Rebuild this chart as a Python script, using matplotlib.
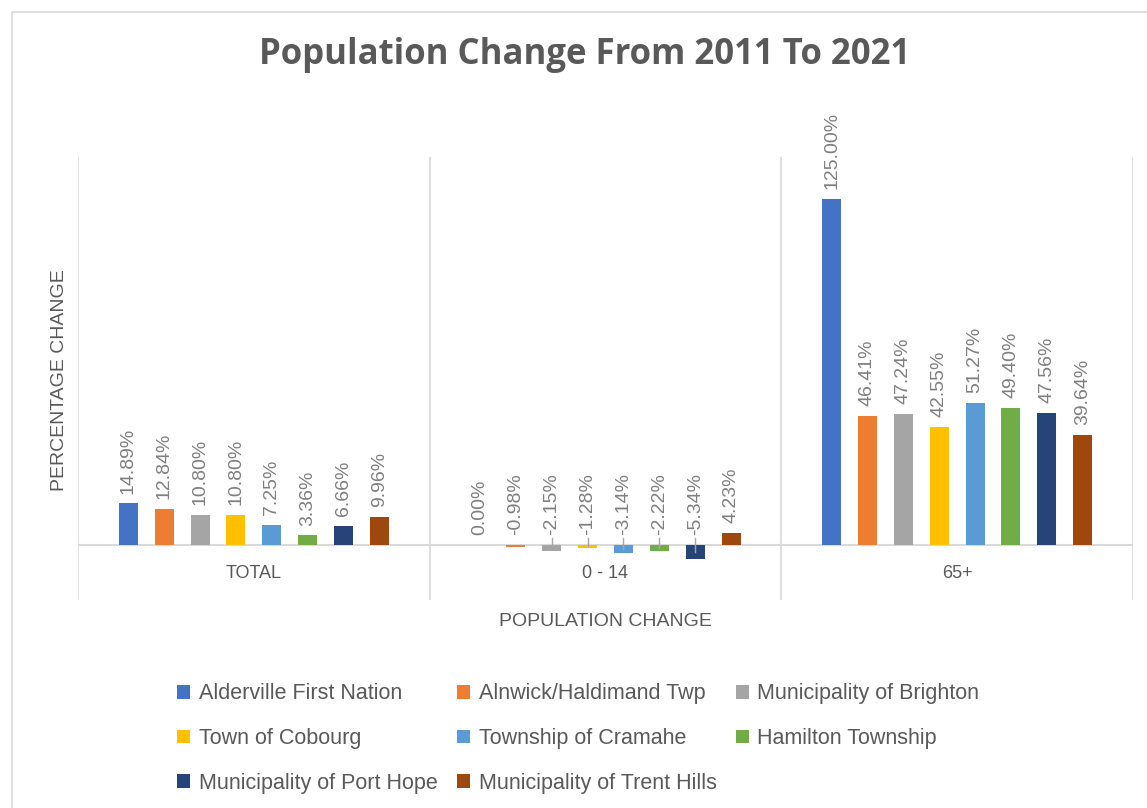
import matplotlib.pyplot as plt
import matplotlib.patches as mpatches
import numpy as np

categories = ['TOTAL', '0 - 14', '65+']
places = ['Alderville First Nation', 'Alnwick/Haldimand Twp', 'Municipality of Brighton',
          'Town of Cobourg', 'Township of Cramahe', 'Hamilton Township',
          'Municipality of Port Hope', 'Municipality of Trent Hills']
total = [14.89, 12.84, 10.80, 10.80, 7.25, 3.36, 6.66, 9.96]
age_0_14 = [0.00, -0.98, -2.15, -1.28, -3.14, -2.22, -5.34, 4.23]
age_65 = [125.00, 46.41, 47.24, 42.55, 51.27, 49.40, 47.56, 39.64]
colors = ['#4472C4', '#ED7D31', '#A5A5A5', '#FFC000', '#5B9BD5', '#70AD47', '#264478', '#9E480E']

grey = '#595959'
grid = '#D9D9D9'
font = 'Liberation Sans'

fig = plt.figure(figsize=(11.47, 8.08), dpi=100)
# chart border
fig.patches.append(mpatches.Rectangle((12 / 1147, -0.1), 1.2, 1 - 12 / 808 + 0.1,
                                      transform=fig.transFigure, fill=False,
                                      edgecolor=grid, linewidth=1.2))
ax = fig.add_axes([78 / 1147, 1 - 600 / 808, (1133 - 78) / 1147, (600 - 157) / 808])

series = np.array([total, age_0_14, age_65])
pitch = 0.102
width = 0.054
handles = []
for i, (name, c) in enumerate(zip(places, colors)):
    xs = np.arange(len(categories)) + 0.5 + (i - 3.5) * pitch
    vals = series[:, i]
    handles.append(ax.bar(xs, vals, width=width, color=c, label=name, zorder=3))
    for x, v in zip(xs, vals):
        ax.text(x, max(v, 0) + 3.5, f'{v:.2f}%', rotation=90, ha='center', va='bottom',
                color='#7F7F7F', fontsize=14, family=font)
        if v < -1:
            ax.plot([x, x], [2.5, v / 2], color='#A6A6A6', lw=1, zorder=4)

ax.set_xlim(0, 3)
ax.set_ylim(-20, 140)
for xb in range(4):
    ax.axvline(xb, color=grid, lw=1.2, zorder=1)
ax.axhline(0, color=grid, lw=1.5, zorder=2)
for k, cat in enumerate(categories):
    ax.text(k + 0.5, -10.3, cat, ha='center', va='center', color=grey, fontsize=13, family=font)
for s in ax.spines.values():
    s.set_visible(False)
ax.set_xticks([])
ax.set_yticks([])

fig.text(585 / 1147, 1 - 55 / 808, 'Population Change From 2011 To 2021', ha='center', va='center',
         fontsize=25, fontweight='bold', color=grey, family='Open Sans')
fig.text(60 / 1147, 1 - 380 / 808, 'PERCENTAGE CHANGE', rotation=90, ha='center', va='center',
         fontsize=14, color=grey, family=font)
fig.text(605 / 1147, 1 - 621 / 808, 'POPULATION CHANGE', ha='center', va='center',
         fontsize=14, color=grey, family=font)

# legend fills column by column, so reorder to read row by row
order = [0, 3, 6, 1, 4, 7, 2, 5]
fig.legend([handles[j] for j in order], [places[j] for j in order],
           loc='upper left', bbox_to_anchor=(158 / 1147, 1 - 664 / 808), ncol=3, frameon=False,
           prop={'family': font, 'size': 15.5}, labelcolor=grey, handlelength=0.6, handleheight=0.6,
           handletextpad=0.4, columnspacing=0.9, labelspacing=1.1)

fig.savefig('out.png', dpi=100)
